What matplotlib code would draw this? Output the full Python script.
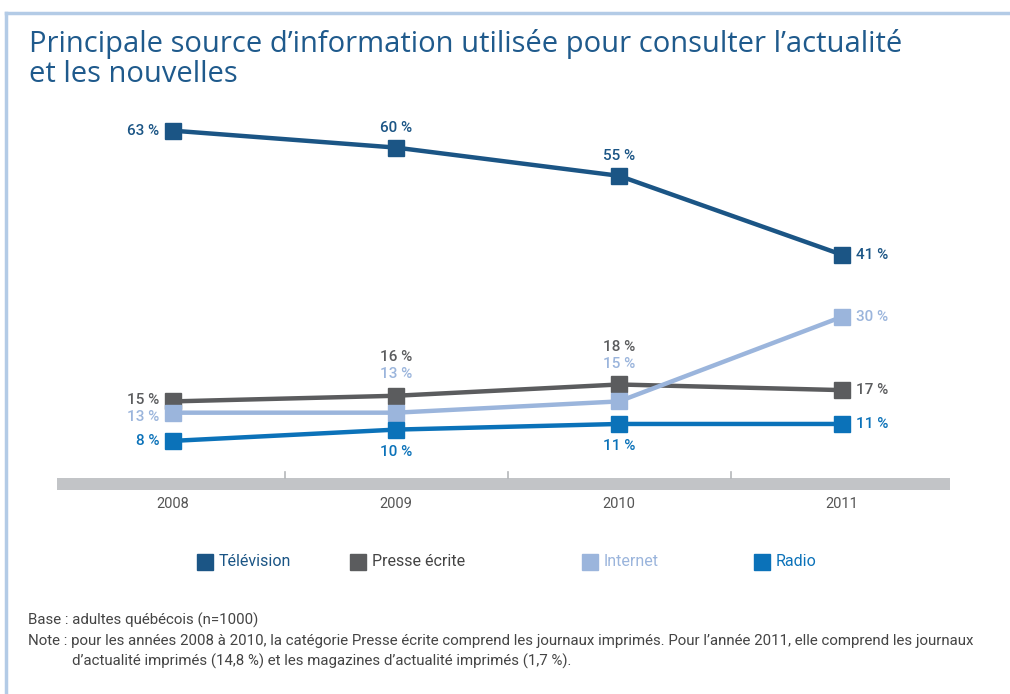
import matplotlib.pyplot as plt
from matplotlib.lines import Line2D

years = [2008, 2009, 2010, 2011]
tele = [63, 60, 55, 41]
presse = [15, 16, 18, 17]
internet = [13, 13, 15, 30]
radio = [8, 10, 11, 11]
series_names = ['Télévision', 'Presse écrite', 'Internet', 'Radio']

c_tv = '#1b5585'
c_pr = '#5b5c5e'
c_in = '#9bb5dc'
c_ra = '#0b72b9'
title_col = '#1f5a8c'
narrow = ['Roboto', 'DejaVu Sans']

fig = plt.figure(figsize=(10.1, 6.94), dpi=100)
W, H = 1010, 694

# frame
fig.add_artist(Line2D([6 / W, 1], [1 - 13 / H, 1 - 13 / H], color='#b3cbe6', lw=2.5))
fig.add_artist(Line2D([6 / W, 6 / W], [0, 1 - 13 / H], color='#b3cbe6', lw=2.5))

fig.text(29 / W, 1 - 44 / H, "Principale source d’information utilisée pour consulter l’actualité",
         fontsize=21, color=title_col, family='Open Sans', fontweight='medium', va='center')
fig.text(29 / W, 1 - 74 / H, "et les nouvelles",
         fontsize=21, color=title_col, family='Open Sans', fontweight='medium', va='center')

# axes: x 57..950 px, y 100..490 px
ax = fig.add_axes([57 / W, 1 - 490 / H, 893 / W, 390 / H])
ppy = 223.0
ppc = 5.64
ax.set_xlim(2008 - 116 / ppy, 2011 + 108 / ppy)
ax.set_ylim(-4 / ppc, 386 / ppc)
ax.axis('off')
ax.axhspan(-4 / ppc, 8 / ppc, color='#c2c4c7', lw=0, zorder=1)
for xm in [2008.5, 2009.5, 2010.5]:
    ax.plot([xm, xm], [8 / ppc, 14 / ppc], color='#b5b7ba', lw=1.2, zorder=1)

data = [tele, presse, internet, radio]
cols = [c_tv, c_pr, c_in, c_ra]
for vals, c in zip(data, cols):
    ax.plot(years, vals, color=c, lw=3.2, marker='s', ms=12, zorder=3,
            solid_joinstyle='miter')

def lab(x, y, s, c, dx=0, dy=0, ha='center'):
    ax.annotate(s, (x, y), xytext=(dx, dy), textcoords='offset points',
                ha=ha, va='center', color=c, fontsize=11, family=narrow,
                fontweight='medium', zorder=4)

fmt = lambda v: f'{v} %'
# Télévision
lab(years[0], tele[0], fmt(tele[0]), c_tv, dx=-10, ha='right')
lab(years[1], tele[1], fmt(tele[1]), c_tv, dy=14)
lab(years[2], tele[2], fmt(tele[2]), c_tv, dy=14)
lab(years[3], tele[3], fmt(tele[3]), c_tv, dx=10, ha='left')
# Presse
lab(years[0], presse[0], fmt(presse[0]), c_pr, dx=-10, ha='right', dy=1)
lab(years[1], presse[1], fmt(presse[1]), c_pr, dy=28)
lab(years[2], presse[2], fmt(presse[2]), c_pr, dy=27)
lab(years[3], presse[3], fmt(presse[3]), c_pr, dx=10, ha='left')
# Internet
lab(years[0], internet[0], fmt(internet[0]), c_in, dx=-10, ha='right', dy=-3)
lab(years[1], internet[1], fmt(internet[1]), c_in, dy=28)
lab(years[2], internet[2], fmt(internet[2]), c_in, dy=27)
lab(years[3], internet[3], fmt(internet[3]), c_in, dx=10, ha='left')
# Radio
lab(years[0], radio[0], fmt(radio[0]), c_ra, dx=-10, ha='right')
lab(years[1], radio[1], fmt(radio[1]), c_ra, dy=-16)
lab(years[2], radio[2], fmt(radio[2]), c_ra, dy=-16)
lab(years[3], radio[3], fmt(radio[3]), c_ra, dx=10, ha='left')

for yv in years:
    ax.annotate(str(yv), (yv, -4 / ppc), xytext=(0, -10), textcoords='offset points',
                ha='center', va='center', fontsize=10.5, color='#555555', family=narrow)

# legend
leg_x = [205, 358, 590, 762]
for lx, name, c in zip(leg_x, series_names, cols):
    fig.patches.append(plt.Rectangle(((lx - 8) / W, 1 - 570 / H), 16 / W, 16 / H,
                                     color=c, transform=fig.transFigure))
    fig.text((lx + 14) / W, 1 - 562 / H, name, fontsize=11.5, color=c if c != c_pr else '#444444',
             family=narrow, va='center')

foot = '#444444'
fs = 10.8
fig.text(28 / W, 1 - 620 / H, 'Base : adultes québécois (n=1000)', fontsize=fs, color=foot,
         family=narrow, va='center')
fig.text(28 / W, 1 - 641 / H, "Note : pour les années 2008 à 2010, la catégorie Presse écrite comprend les journaux imprimés. "
         "Pour l’année 2011, elle comprend les journaux", fontsize=fs, color=foot, family=narrow, va='center')
fig.text(72 / W, 1 - 661 / H, "d’actualité imprimés (14,8 %) et les magazines d’actualité imprimés (1,7 %).",
         fontsize=fs, color=foot, family=narrow, va='center')

fig.savefig('out.png', dpi=100)
